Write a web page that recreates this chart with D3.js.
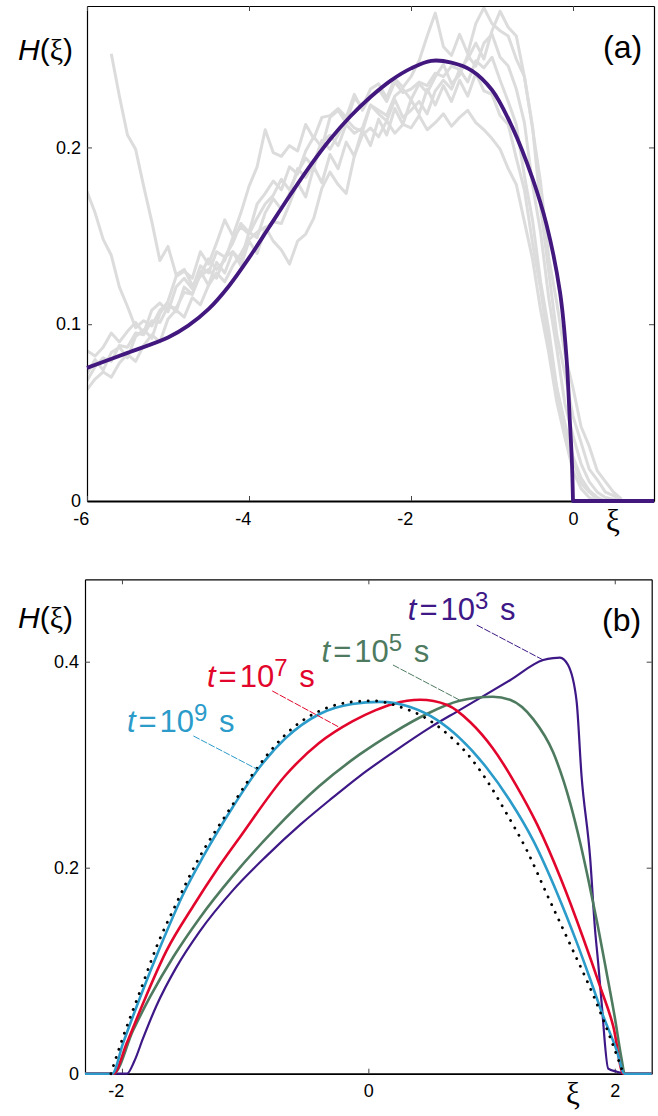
<!DOCTYPE html>
<meta charset="utf-8">
<style>
  body { margin: 0; background: #fff; }
  svg text { font-family: "Liberation Sans", Arial, sans-serif; fill: #000; }
  .greek { font-family: "Liberation Serif", "DejaVu Serif", serif; }
</style>
<svg id="fig" width="658" height="1116"></svg>
<script src="https://d3js.org/d3.v7.min.js"></script>
<script>

// ---------- panel (a): measured runs (grey) on a common xi grid ----------
var gridA = [-6,-5.9,-5.8,-5.7,-5.6,-5.5,-5.4,-5.3,-5.2,-5.1,
             -5,-4.9,-4.8,-4.7,-4.6,-4.5,-4.4,-4.3,-4.2,-4.1,
             -4,-3.9,-3.8,-3.7,-3.6,-3.5,-3.4,-3.3,-3.2,-3.1,
             -3,-2.9,-2.8,-2.7,-2.6,-2.5,-2.4,-2.3,-2.2,-2.1,
             -2,-1.9,-1.8,-1.7,-1.6,-1.5,-1.4,-1.3,-1.2,-1.1,
             -1,-0.9,-0.8,-0.7,-0.6,-0.5,-0.4,-0.3,-0.2,-0.1,
             0,0.1,0.2,0.3,0.4,0.5,0.6];

var run1 = [null,null,null,.253,.229,.207,.199,.178,.158,.136,
            .144,.128,.131,.122,.127,.131,.126,.138,.141,.136,
            .152,.149,.163,.171,.165,.174,.188,.183,.191,.204,
            .199,.207,.216,.211,.209,.224,.221,.218,.229,.233,
            .227,.236,.231,.240,.247,.236,.241,.252,.246,.259,
            .264,.251,.246,.233,.214,.179,.152,.115,.086,.055,
            .037,.021,.011,.005,.002,.001,0];
var run2 = [.175,.163,.148,.139,.121,.110,.098,.102,.099,.108,
            .112,.107,.121,.117,.128,.137,.131,.136,.149,.155,
            .151,.160,.168,.173,.182,.176,.186,.194,.189,.203,
            .207,.201,.213,.208,.211,.224,.219,.215,.227,.217,
            .221,.226,.219,.232,.238,.233,.244,.237,.249,.245,
            .251,.238,.226,.213,.184,.159,.124,.097,.064,.044,
            .025,.013,.006,.002,0,null,null];
var run3 = [.063,.069,.073,.070,.078,.083,.079,.088,.094,.090,
            .103,.108,.104,.115,.111,.122,.129,.124,.133,.140,
            .148,.152,.155,.147,.142,.134,.147,.151,.160,.177,
            .186,.179,.174,.195,.207,.211,.206,.215,.208,.213,
            .211,.218,.210,.214,.219,.212,.217,.221,.214,.210,
            .205,.199,.188,.179,.158,.137,.108,.084,.056,.036,
            .017,.007,.002,0,null,null,null];
var run4 = [.085,.082,.087,.095,.090,.096,.101,.095,.108,.112,
            .107,.121,.126,.120,.133,.129,.141,.138,.146,.157,
            .152,.168,.174,.181,.176,.189,.185,.198,.206,.200,
            .217,.221,.214,.228,.223,.233,.236,.228,.239,.234,
            .240,.249,.263,.276,.257,.252,.264,.253,.270,.279,
            .270,.266,.263,.250,.240,.211,.180,.138,.112,.083,
            .064,.042,.031,.017,.011,.005,.001];
var run5 = [.072,.080,.074,.084,.087,.081,.093,.097,.092,.106,
            .113,.127,.130,.126,.141,.134,.146,.159,.150,.163,
            .178,.189,.210,.197,.195,.201,.198,.213,.205,.217,
            .218,.222,.217,.230,.221,.229,.233,.226,.237,.231,
            .233,.237,.235,.242,.240,.246,.244,.250,.259,.250,
            .266,.277,.268,.263,.240,.212,.166,.130,.094,.072,
            .048,.033,.018,.012,.005,.003,.001];
var run6 = [.068,.076,.081,.079,.088,.087,.095,.094,.102,.101,
            .110,.109,.118,.117,.130,.122,.135,.129,.141,.133,
            .147,.140,.154,.158,.157,.168,.180,.172,.189,.180,
            .196,.188,.203,.195,.210,.201,.216,.207,.222,.213,
            .227,.219,.233,.224,.235,.226,.238,.229,.242,.232,
            .230,.218,.213,.194,.176,.146,.120,.088,.064,.039,
            .023,.010,.005,.001,null,null,null];
var greyRuns = [run1, run2, run3, run4, run5, run6];

// model curve in (a): rises to the front at xi = 0, then zero up to xi = 1
var fitXi = [-6,-5.5,-5,-4.75,-4.5,-4.25,-4,-3.75,-3.5,-3.25,-3,-2.75,-2.5,-2.25,
             -2,-1.75,-1.5,-1.25,-1,-0.75,-0.5,-0.325,-0.16,-0.08,-0.04,-0.015,0,1];
var fitH  = [.0753,.0838,.0925,.0992,.1085,.1215,.1375,.155,.1725,.1893,.2045,.2175,.2285,.2378,
             .2447,.249,.248,.2435,.2325,.2115,.1825,.156,.118,.081,.046,.024,0,0];

// ---------- panel (b): profiles at several times ----------
var xiB3 = [-2.3,-1.96,-1.90,-1.83,-1.72,-1.56,-1.37,-1.10,-0.83,-0.55,-0.30,-0.07,0.20,0.50,0.74,
            1.15,1.42,1.50,1.555,1.62,1.69,1.73,1.80,1.84,1.866,1.894,1.947,2.015,2.10,2.3];
var hB3  = [0,0,.012,.034,.066,.103,.138,.178,.211,.242,.267,.289,.312,.336,.353,
            .382,.4016,.4035,.404,.397,.362,.29,.21,.14,.107,.068,.005,.002,0,0];
var xiB5 = [-2.3,-2.07,-1.91,-1.77,-1.58,-1.37,-1.10,-0.77,-0.40,-0.07,0.20,0.47,0.74,
            1.01,1.15,1.34,1.50,1.64,1.72,1.79,1.86,1.934,2.00,2.056,2.08,2.3];
var hB5  = [0,0,.042,.075,.114,.151,.192,.236,.279,.310,.331,.349,.362,
            .366,.363,.344,.312,.262,.224,.186,.145,.098,.055,.014,0,0];
var xiB7 = [-2.3,-2.07,-1.96,-1.83,-1.64,-1.42,-1.23,-1.04,-0.67,-0.40,-0.13,0.06,0.20,
            0.42,0.64,0.83,1.01,1.20,1.37,1.56,1.74,1.88,1.99,2.07,2.3];
var hB7  = [0,0,.030,.068,.119,.163,.198,.230,.290,.321,.342,.353,.359,
            .363,.358,.341,.316,.280,.242,.190,.133,.085,.045,0,0];
var xiB9 = [-2.3,-2.08,-1.99,-1.85,-1.69,-1.50,-1.34,-1.10,-0.886,-0.669,-0.40,-0.13,0.09,
            0.34,0.55,0.74,0.96,1.15,1.34,1.53,1.69,1.80,1.90,2.015,2.08,2.3];
var hB9  = [0,0,.030,.075,.123,.175,.211,.259,.297,.326,.349,.359,.361,
            .356,.344,.326,.297,.265,.226,.176,.128,.092,.058,.023,0,0];
// limiting profile (dotted)
var xiLim = [-2.09,-1.99,-1.85,-1.72,-1.56,-1.39,-1.13,-0.89,-0.62,-0.34,-0.13,0.04,
             0.26,0.47,0.64,0.80,0.96,1.12,1.29,1.45,1.64,1.83,1.96,2.07];
var hLim  = [0,.036,.081,.123,.165,.206,.256,.299,.335,.355,.361,.362,
             .356,.345,.330,.311,.285,.253,.216,.174,.125,.075,.036,0];

var timeExp = ["3", "5", "7", "9"];
var timeColor = ["#3d1886", "#4e7b5f", "#e2062c", "#2b9bca"];
// label anchor and leader line ends, in data units (xi, H)
var labelAt    = [[0.32, .4405], [-0.38, .3997], [-1.31, .3757], [-1.96, .332]];
var leaderFrom = [[0.88, .4356], [0.20, .3968], [-0.78, .3716], [-1.42, .3279]];
var leaderTo   = [[1.42, .4016], [0.74, .3628], [-0.24, .3366], [-0.89, .2948]];

var svg = d3.select("#fig");

function pairs(xs, ys) { return xs.map(function(v, i) { return [v, ys[i]]; }); }

function drawFrame(x, y, xTicks, yTicks) {
  var fmt = function(d) { return String(d); };
  var x0 = x.range()[0], x1 = x.range()[1], y0 = y.range()[0], y1 = y.range()[1];

  var gl = svg.append("g").attr("transform", "translate(" + x0 + ",0)")
    .call(d3.axisLeft(y).tickValues(yTicks).tickFormat(fmt).tickSize(-5).tickSizeOuter(0).tickPadding(6));
  var gb = svg.append("g").attr("transform", "translate(0," + y0 + ")")
    .call(d3.axisBottom(x).tickValues(xTicks).tickFormat(fmt).tickSize(-5).tickSizeOuter(0).tickPadding(11));
  var gt = svg.append("g").attr("transform", "translate(0," + y1 + ")")
    .call(d3.axisTop(x).tickValues(xTicks).tickFormat("").tickSize(-5).tickSizeOuter(0));
  var gr = svg.append("g").attr("transform", "translate(" + x1 + ",0)")
    .call(d3.axisRight(y).tickValues(yTicks).tickFormat("").tickSize(-5).tickSizeOuter(0));

  [gl, gb, gt, gr].forEach(function(g) {
    g.selectAll("text").attr("font-size", 18).attr("font-family", "Liberation Sans, Arial, sans-serif");
    g.selectAll("line").attr("stroke", "#444");
    g.select(".domain").attr("stroke", "#000").attr("stroke-width", 1.2);
  });
  gb.select(".domain").attr("stroke-width", 1.8);
  // negative labels sit to the left of their tick
  gb.selectAll(".tick text").filter(function(d) { return d < 0; })
    .attr("text-anchor", "end").attr("dx", "0.1em");
}

function hLabel(px, py) {
  var t = svg.append("text").attr("x", px).attr("y", py).attr("font-size", 30);
  t.append("tspan").attr("font-style", "italic").text("H");
  t.append("tspan").text("(");
  t.append("tspan").attr("class", "greek").text("ξ");
  t.append("tspan").text(")");
}

// ================= panel (a) =================
var xA = d3.scaleLinear().domain([-6, 1]).range([87, 654]);
var yA = d3.scaleLinear().domain([0, 0.28]).range([501, 6]);

svg.append("clipPath").attr("id", "clipA").append("rect")
  .attr("x", 87).attr("y", 6).attr("width", 567).attr("height", 495);

var greyLine = d3.line()
  .defined(function(d) { return d[1] != null; })
  .x(function(d) { return xA(d[0]); })
  .y(function(d) { return yA(d[1]); });

var gA = svg.append("g").attr("clip-path", "url(#clipA)");
gA.selectAll(".run").data(greyRuns).enter().append("path")
  .attr("class", "run")
  .attr("d", function(r) { return greyLine(pairs(gridA, r)); })
  .attr("fill", "none").attr("stroke", "#dcdcdc").attr("stroke-width", 3)
  .attr("stroke-linejoin", "round");

drawFrame(xA, yA, [-6, -4, -2, 0], [0, 0.1, 0.2]);

var fitPts = pairs(fitXi, fitH);
var nFit = fitPts.length;
var smoothFit = d3.line().curve(d3.curveCatmullRom.alpha(0.5))
  .x(function(d) { return xA(d[0]); })
  .y(function(d) { return yA(d[1]); });
var flatFit = d3.line()
  .x(function(d) { return xA(d[0]); })
  .y(function(d) { return yA(d[1]); });

svg.append("path")
  .attr("d", smoothFit(fitPts.slice(0, nFit - 1)) + flatFit(fitPts.slice(nFit - 2)).replace("M", "L"))
  .attr("fill", "none").attr("stroke", "#42187f").attr("stroke-width", 3.8)
  .attr("stroke-linejoin", "round");

hLabel(18, 60);
svg.append("text").attr("x", 603).attr("y", 58).attr("font-size", 32).text("(a)");
svg.append("text").attr("class", "greek").attr("x", 613).attr("y", 531)
  .attr("text-anchor", "middle").attr("font-size", 31).text("ξ");

// ================= panel (b) =================
var xB = d3.scaleLinear().domain([-2.3, 2.3]).range([85, 651.7]);
var yB = d3.scaleLinear().domain([0, 0.48]).range([1073.7, 579.3]);

var lineB = d3.line().curve(d3.curveMonotoneX)
  .x(function(d) { return xB(d[0]); })
  .y(function(d) { return yB(d[1]); });

drawFrame(xB, yB, [-2, 0, 2], [0, 0.2, 0.4]);

var profiles = [pairs(xiB3, hB3), pairs(xiB5, hB5), pairs(xiB7, hB7), pairs(xiB9, hB9)];
svg.append("g").selectAll("path").data(profiles).enter().append("path")
  .attr("d", lineB)
  .attr("fill", "none")
  .attr("stroke", function(d, i) { return timeColor[i]; })
  .attr("stroke-width", function(d, i) { return i === 0 ? 2.2 : 2.6; })
  .attr("stroke-linejoin", "round");

svg.append("path")
  .attr("d", lineB(pairs(xiLim, hLim)))
  .attr("fill", "none").attr("stroke", "#000").attr("stroke-width", 2.8)
  .attr("stroke-linecap", "round").attr("stroke-dasharray", "0.1 8.4");

// leaders and labels
timeExp.forEach(function(e, i) {
  svg.append("line")
    .attr("x1", xB(leaderFrom[i][0])).attr("y1", yB(leaderFrom[i][1]))
    .attr("x2", xB(leaderTo[i][0])).attr("y2", yB(leaderTo[i][1]))
    .attr("stroke", timeColor[i]).attr("stroke-width", 1)
    .attr("stroke-dasharray", "7 1.5");

  var t = svg.append("text")
    .attr("x", xB(labelAt[i][0])).attr("y", yB(labelAt[i][1]))
    .attr("font-size", 31).style("fill", timeColor[i]);
  t.append("tspan").attr("font-style", "italic").text("t");
  t.append("tspan").attr("dx", 3).text("=");
  t.append("tspan").attr("dx", 3).text("10");
  t.append("tspan").attr("dy", -11).attr("font-size", 24).text(e);
  t.append("tspan").attr("dy", 11).attr("dx", 3).text(" s");
});

hLabel(18, 628);
svg.append("text").attr("x", 602).attr("y", 631).attr("font-size", 32).text("(b)");
svg.append("text").attr("class", "greek").attr("x", 573).attr("y", 1104)
  .attr("text-anchor", "middle").attr("font-size", 31).text("ξ");

</script>
